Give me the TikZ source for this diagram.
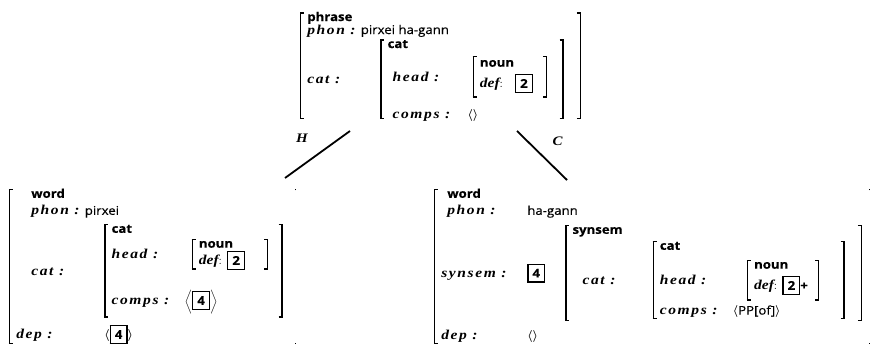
\documentclass[tikz,border=0pt]{standalone}
\usepackage{fontspec}
\setmainfont{Latin Modern Roman}
\newfontfamily\valfont{Open Sans}[FakeStretch=1.1, FakeBold=0.3]
\newfontfamily\featfont{Liberation Serif}[FakeStretch=1.15, LetterSpace=12]
\newfontfamily\slfont{Liberation Serif}[FakeStretch=1.15]
\usetikzlibrary{positioning}

% pieces of a feature structure
\newcommand{\typ}[1]{{\valfont\bfseries #1}}
\newcommand{\val}[1]{{\valfont #1}}
\newcommand{\ft}[1]{{\fontsize{13.5}{14}\featfont\bfseries\itshape #1}}
\newcommand{\deff}{{\fontsize{13.5}{14}\slfont\bfseries\itshape def}}
\newcommand{\lab}[2]{\makebox[#1][l]{\ft{#2 :}}}
\newcommand{\tagnum}[1]{{\setlength\fboxrule{1.2pt}\setlength\fboxsep{4pt}%
  \fbox{\valfont\bfseries #1}}}
\newcommand{\lang}{{\boldmath$\langle$}}
\newcommand{\rang}{{\boldmath$\rangle$}}
\newcommand{\rowgap}[1]{\noalign{\vskip#1}}

% brackets drawn with rules
\newlength\bkrule \setlength\bkrule{1.3pt}
\newlength\bktick \setlength\bktick{4pt}
\newlength\avmtop \setlength\avmtop{1pt}
\newlength\avmbot \setlength\avmbot{4pt}
\newlength\avmpadl \setlength\avmpadl{6pt}
\newsavebox\avmcontent
\newcommand{\avmleft}{%
  \rlap{\vrule height\dimen0 depth-\dimexpr\dimen0-\bkrule\relax width\bktick}%
  \rlap{\vrule height-\dimexpr\dimen2-\bkrule\relax depth\dimen2 width\bktick}%
  \vrule height\dimen0 depth\dimen2 width\bkrule\relax}
\newcommand{\avmright}{%
  \vrule height\dimen0 depth\dimen2 width\bkrule\relax
  \llap{\vrule height\dimen0 depth-\dimexpr\dimen0-\bkrule\relax width\bktick}%
  \llap{\vrule height-\dimexpr\dimen2-\bkrule\relax depth\dimen2 width\bktick}}
\newcommand{\avmticks}{% closing bracket faded out, only its ends left
  \kern\bkrule
  \llap{\vrule height\dimen0 depth-\dimexpr\dimen0-\bkrule\relax width\bkrule}%
  \llap{\vrule height-\dimexpr\dimen2-\bkrule\relax depth\dimen2 width\bkrule}}
\newcommand{\avmbuild}[3]{%
  \begingroup
  \sbox\avmcontent{\begin{tabular}[c]{@{}l@{}l@{}}#3\end{tabular}}%
  \dimen0=\dimexpr\ht\avmcontent-\avmtop\relax
  \dimen2=\dimexpr\dp\avmcontent-\avmbot\relax
  \avmleft\kern\avmpadl\usebox\avmcontent\kern#2#1%
  \endgroup}
\newcommand{\avm}[2][12pt]{\avmbuild\avmright{#1}{#2}}
\newcommand{\avmfaded}[2][12pt]{\avmbuild\avmticks{#1}{#2}}

\begin{document}
\begin{tikzpicture}[x=1pt,y=1pt]
  \tikzset{
    avmnode/.style={inner sep=0pt, outer sep=0pt, font=\fontsize{12}{14}\selectfont},
    branch/.style={line width=1.8pt},
    arclabel/.style={inner sep=0pt, font=\fontsize{13}{15}\selectfont\slfont\bfseries\itshape}
  }
  \useasboundingbox (0,0) rectangle (874,-343);

  % mother: the phrase
  \node[avmnode, anchor=north west] (mother) at (300,-11.2) {\avm[16pt]{%
    \typ{phrase} & \\ \rowgap{-1pt}
    \multicolumn{2}{@{}l@{}}{\ft{phon :} \val{pirxei ha-gann}} \\
    \lab{73pt}{cat} & \avm[15pt]{%
      \typ{cat} & \\ \rowgap{2.5pt}
      \hspace{5pt}\lab{75pt}{head} & \hspace{5pt}\avm[13pt]{%
        \typ{noun}\rule{0pt}{12pt} \\ \rowgap{3pt}
        \deff :\hspace{12pt}\tagnum{2} \\ \rowgap{8.8pt}} \\ \rowgap{7.2pt}
      \hspace{5pt}\lab{75pt}{comps} & \lang\rang}}};

  % head daughter
  \node[avmnode, anchor=north west] (headdtr) at (9,-188) {\avmfaded{%
    \hspace{15pt}\typ{word} & \\ \rowgap{3pt}
    \multicolumn{2}{@{}l@{}}{\hspace{15pt}\ft{phon :} \val{pirxei}} \\ \rowgap{4pt}
    \hspace{15pt}\lab{73pt}{cat} & \avm[13pt]{%
      \typ{cat} & \\ \rowgap{0.9pt}
      \lab{73pt}{head} & \hspace{7pt}\avm[22pt]{%
        \typ{noun} \\ \rowgap{-1pt}
        \deff : \tagnum{2} \\ \rowgap{3.8pt}} \\ \rowgap{16pt}
      \lab{73pt}{comps} & $\left\langle\tagnum{4}\right\rangle$ \\ \rowgap{8pt}} \\ \rowgap{3.2pt}
    \lab{88pt}{dep} & \lang\tagnum{4}\rang \\ \rowgap{4.8pt}}};

  % complement daughter
  \node[avmnode, anchor=north west] (compdtr) at (434,-188) {\avmfaded[7pt]{%
    \hspace{6pt}\typ{word} & \\ \rowgap{3pt}
    \hspace{6pt}\lab{80pt}{phon} & \val{ha-gann} \\ \rowgap{5pt}
    \lab{86pt}{synsem} & \tagnum{4}\hspace{20pt}\avm[16pt]{%
      \typ{synsem} & \\ \rowgap{2pt}
      \hspace{10pt}\lab{70pt}{cat} & \avm[24pt]{%
        \typ{cat} & \\ \rowgap{4.9pt}
        \lab{73pt}{head} & \hspace{14pt}\avm[10pt]{%
          \typ{noun} \\ \rowgap{3pt}
          \deff : \tagnum{2}\typ{+} \\ \rowgap{9.8pt}} \\
        \lab{73pt}{comps} & \lang\val{PP[of]}\rang \\ \rowgap{4.1pt}} \\ \rowgap{2pt}} \\ \rowgap{5pt}
    \lab{86pt}{dep} & \lang\rang \\ \rowgap{4.8pt}}};

  \draw[branch] ([shift={(50,-8)}]mother.south west)
    -- node[arclabel, pos=0.15, left=31.6pt] {H} ([shift={(276,10)}]headdtr.north west);
  \draw[branch] ([shift={(217,-8)}]mother.south west)
    -- node[arclabel, pos=0.2, right=24.7pt] {C} ([shift={(133,8)}]compdtr.north west);
\end{tikzpicture}
\end{document}
